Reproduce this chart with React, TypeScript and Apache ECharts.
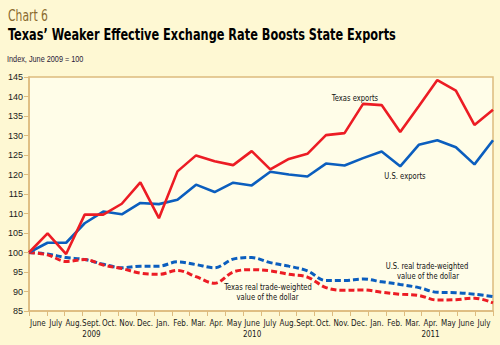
import React, { useEffect, useRef } from "react";
import * as echarts from "echarts";

const categories = [
  "2009-06", "2009-07", "2009-08", "2009-09", "2009-10", "2009-11", "2009-12",
  "2010-01", "2010-02", "2010-03", "2010-04", "2010-05", "2010-06", "2010-07",
  "2010-08", "2010-09", "2010-10", "2010-11", "2010-12",
  "2011-01", "2011-02", "2011-03", "2011-04", "2011-05", "2011-06", "2011-07",
];
const monthLabels = [
  "June", "July", "Aug.", "Sept.", "Oct.", "Nov.", "Dec.",
  "Jan.", "Feb.", "Mar.", "Apr.", "May", "June", "July",
  "Aug.", "Sept.", "Oct.", "Nov.", "Dec.",
  "Jan.", "Feb.", "Mar.", "Apr.", "May", "June", "July",
];
const yearLabels = [
  "", "", "", "2009", "", "", "",
  "", "", "", "", "", "2010", "",
  "", "", "", "", "",
  "", "", "", "2011", "", "", "",
];
const texasExports = [
  100, 104.9, 99.6, 109.7, 109.7, 112.5, 118.0, 108.8, 120.8, 124.9, 123.4, 122.4, 126.0,
  121.3, 124.0, 125.3, 130.1, 130.6, 138.1, 137.8, 130.9, 137.5, 144.2, 141.5, 132.7, 136.6,
];
const usExports = [
  100, 102.5, 102.5, 107.5, 110.5, 109.8, 112.7, 112.4, 113.5, 117.4, 115.5, 117.9, 117.2,
  120.7, 120.0, 119.5, 122.8, 122.3, 124.2, 125.9, 122.1, 127.6, 128.8, 127.0, 122.6, 128.8,
];
const usDollar = [
  100, 99.6, 98.7, 98.2, 97.0, 96.1, 96.5, 96.5, 97.6, 96.9, 96.1, 98.3, 98.7,
  97.4, 96.5, 95.3, 92.8, 92.8, 93.2, 92.5, 91.8, 91.0, 89.8, 89.7, 89.3, 88.7,
];
const texasDollar = [
  100, 99.4, 97.7, 98.2, 96.8, 95.9, 94.7, 94.4, 95.4, 93.8, 92.1, 95.0, 95.6,
  95.3, 94.4, 93.7, 91.0, 90.3, 90.4, 89.8, 89.3, 89.0, 87.8, 87.9, 88.3, 87.1,
];
const yTicks = { min: 85, max: 145, interval: 5 };

const COND = '"DejaVu Sans Condensed", "DejaVu Sans", sans-serif';
const ARIAL = '"Liberation Sans", Arial, sans-serif';
const RED = "#EC1C24";
const BLUE = "#0B5EBE";
const TAN = "#DDBB7E";

export default function App() {
  const ref = useRef<HTMLDivElement>(null);
  useEffect(() => {
    if (!ref.current) return;
    const chart = echarts.init(ref.current, undefined, { renderer: "svg" });
    const txt = (
      text: string, x: number, y: number, font: string, fill = "#111",
      align = "center", scaleX = 0.84
    ) => ({
      type: "text", x, y, scaleX, silent: true,
      style: { text, font, fill, align, verticalAlign: "middle" },
    });
    const option: any = {
      animation: false,
      backgroundColor: "#FEF8D3",
      grid: {
        left: 29, right: 7, top: 77, bottom: 34, show: true,
        backgroundColor: "#FFFDE8", borderColor: TAN, borderWidth: 1.5,
      },
      xAxis: [
        {
          type: "category", data: categories, boundaryGap: false, position: "bottom",
          show: false,
        },
        {
          type: "category", data: categories, boundaryGap: true, position: "bottom",
          axisLine: { show: true, lineStyle: { color: TAN, width: 1.5 } },
          axisTick: { show: true, interval: 0, length: 5, lineStyle: { color: TAN, width: 1 } },
          axisLabel: {
            interval: 0, margin: 7, fontFamily: COND, fontSize: 8, color: "#1a1a1a",
            lineHeight: 11,
            formatter: (_v: string, i: number) =>
              yearLabels[i] ? monthLabels[i] + "\n" + yearLabels[i] : monthLabels[i],
          },
          splitLine: { show: false },
        },
      ],
      yAxis: {
        type: "value", min: yTicks.min, max: yTicks.max, interval: yTicks.interval,
        axisLine: { show: true, lineStyle: { color: TAN, width: 1.5 } },
        axisTick: { show: true, length: 5, lineStyle: { color: TAN, width: 1 } },
        axisLabel: { margin: 6, fontFamily: ARIAL, fontSize: 9, color: "#1a1a1a" },
        splitLine: { show: false },
      },
      series: [
        {
          name: "U.S. real trade-weighted value of the dollar", type: "line", data: usDollar,
          xAxisIndex: 0, symbol: "none", smooth: 0.35,
          lineStyle: { color: BLUE, width: 3, type: [6, 3] },
        },
        {
          name: "Texas real trade-weighted value of the dollar", type: "line", data: texasDollar,
          xAxisIndex: 0, symbol: "none", smooth: 0.35,
          lineStyle: { color: RED, width: 3, type: [6, 3] },
        },
        {
          name: "U.S. exports", type: "line", data: usExports, xAxisIndex: 0, symbol: "none",
          lineStyle: { color: BLUE, width: 2.6 },
        },
        {
          name: "Texas exports", type: "line", data: texasExports, xAxisIndex: 0, symbol: "none",
          lineStyle: { color: RED, width: 2.6 },
        },
      ],
      graphic: [
        txt("Chart 6", 8, 15.5, `15px ${COND}`, "#8B6B2E", "left", 0.8),
        txt("Texas’ Weaker Effective Exchange Rate Boosts State Exports", 8, 35, `bold 15px ${COND}`, "#000", "left", 0.84),
        txt("Index, June 2009 = 100", 7, 59.5, `8.5px ${ARIAL}`, "#2a1838", "left", 0.86),
        txt("Texas exports", 355, 98, `9px ${COND}`),
        txt("U.S. exports", 405, 176, `9px ${COND}`),
        txt("U.S. real trade-weighted", 427, 266, `9px ${COND}`),
        txt("value of the dollar", 428, 276, `9px ${COND}`),
        txt("Texas real trade-weighted", 268, 286.7, `9px ${COND}`),
        txt("value of the dollar", 267.5, 296.5, `9px ${COND}`),
      ],
    };
    chart.setOption(option);
    return () => chart.dispose();
  }, []);
  return <div ref={ref} style={{ width: 500, height: 345, position: "absolute", left: 0, top: 0 }} />;
}
